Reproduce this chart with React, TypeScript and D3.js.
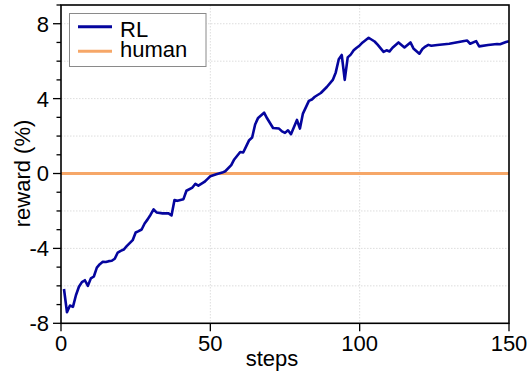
import React from "react";
import * as d3 from "d3";

const rlSteps = [1, 2, 3, 4, 5, 6, 7, 8, 9, 10, 11, 12, 13, 14, 15, 16, 17, 18, 19, 20, 21, 22, 24, 25, 26, 27, 28, 29, 30, 31, 32, 34, 36, 37, 38, 39, 41, 42, 44, 45, 46, 48, 49, 50, 52, 54, 55, 57, 58, 60, 61, 62, 63, 64, 65, 66, 68, 69, 71, 73, 74, 75, 76, 77, 79, 80, 81, 83, 84, 85, 87, 89, 91, 92, 93, 94, 95, 96, 97, 98, 99, 100, 101, 103, 105, 106, 108, 109, 110, 111, 113, 115, 117, 118, 120, 121, 122, 123, 124, 126, 130, 135, 136, 137, 139, 140, 143, 146, 147, 149, 150];
const rlValues = [-6.17, -7.41, -7.05, -7.12, -6.5, -6.05, -5.8, -5.7, -6.0, -5.6, -5.5, -5.03, -4.84, -4.71, -4.73, -4.68, -4.66, -4.55, -4.22, -4.13, -4.06, -3.88, -3.56, -3.15, -3.08, -2.99, -2.67, -2.45, -2.2, -1.92, -2.08, -2.13, -2.13, -2.24, -1.42, -1.46, -1.37, -0.92, -0.75, -0.55, -0.65, -0.45, -0.3, -0.15, -0.04, 0.05, 0.12, 0.45, 0.75, 1.15, 1.12, 1.45, 1.78, 1.92, 2.62, 2.97, 3.25, 2.95, 2.43, 2.4, 2.25, 2.17, 2.31, 2.1, 2.86, 2.4, 3.2, 3.88, 3.95, 4.1, 4.3, 4.62, 5.0, 5.4, 6.1, 6.33, 5.0, 6.2, 6.35, 6.58, 6.72, 6.84, 7.0, 7.25, 7.05, 6.88, 6.5, 6.58, 6.52, 6.72, 7.0, 6.73, 7.0, 6.68, 6.4, 6.65, 6.78, 6.87, 6.82, 6.86, 6.93, 7.08, 7.1, 6.93, 7.07, 6.79, 6.86, 6.92, 6.9, 7.02, 7.07];
const humanSteps = [0, 150];
const humanValues = [0, 0];

const xTicks = [0, 50, 100, 150];
const yTicks = [-8, -4, 0, 4, 8];
const yMinorTicks = d3.range(-8, 10, 1);
const yGrid = [-6, -4, -2, 2, 4, 6, 8];
const xGrid = [50, 100];
const seriesNames = ["RL", "human"];
const seriesColors = ["#05059e", "#f6a768"];

const W = 527;
const H = 375;
const left = 61;
const right = 509;
const top = 5;
const bottom = 323.3;
const FONT = "'Liberation Sans', Arial, sans-serif";

export default function App() {
  const x = d3.scaleLinear().domain([0, 150]).range([left, right]);
  const y = d3.scaleLinear().domain([-8, 9]).range([bottom, top]);
  const line = d3
    .line<[number, number]>()
    .x((d) => x(d[0]))
    .y((d) => y(d[1]));
  const rlData: [number, number][] = rlSteps.map((s, i) => [s, rlValues[i]]);
  const humanData: [number, number][] = humanSteps.map((s, i) => [s, humanValues[i]]);

  return (
    <svg
      width={W}
      height={H}
      style={{ position: "absolute", left: 0, top: 0, background: "#fff" }}
      fontFamily={FONT}
    >
      <rect x={0} y={0} width={W} height={H} fill="#fff" />
      {/* grid */}
      {yGrid.map((v) => (
        <line
          key={"yg" + v}
          x1={left}
          x2={right}
          y1={y(v)}
          y2={y(v)}
          stroke="#d4d4d4"
          strokeWidth={0.8}
          strokeDasharray="1.5,1.5"
        />
      ))}
      {xGrid.map((v) => (
        <line
          key={"xg" + v}
          x1={x(v)}
          x2={x(v)}
          y1={top}
          y2={bottom}
          stroke="#d4d4d4"
          strokeWidth={0.8}
          strokeDasharray="1.5,1.5"
        />
      ))}
      {/* series */}
      <path d={line(humanData) || ""} fill="none" stroke={seriesColors[1]} strokeWidth={3} />
      <path
        d={line(rlData) || ""}
        fill="none"
        stroke={seriesColors[0]}
        strokeWidth={2.6}
        strokeLinejoin="round"
      />
      {/* frame */}
      <rect
        x={left}
        y={top}
        width={right - left}
        height={bottom - top}
        fill="none"
        stroke="#000"
        strokeWidth={1.6}
      />
      {/* y ticks */}
      {yMinorTicks.map((v) => (
        <line
          key={"ym" + v}
          x1={left - (v % 4 === 0 ? 8 : 4.5)}
          x2={left}
          y1={y(v)}
          y2={y(v)}
          stroke="#000"
          strokeWidth={1.3}
        />
      ))}
      {yTicks.map((v) => (
        <text
          key={"yt" + v}
          x={49}
          y={y(v) + 7.9}
          textAnchor="end"
          fontSize={22}
          fill="#000"
        >
          {v}
        </text>
      ))}
      {/* x ticks */}
      {xTicks.map((v) => (
        <g key={"xt" + v}>
          <line x1={x(v)} x2={x(v)} y1={bottom} y2={bottom + 8} stroke="#000" strokeWidth={1.3} />
          <text x={x(v)} y={351} textAnchor="middle" fontSize={22} fill="#000">
            {v}
          </text>
        </g>
      ))}
      {/* axis labels */}
      <text x={272} y={365.5} textAnchor="middle" fontSize={22} fill="#000">
        steps
      </text>
      <text
        transform={`translate(30, ${y(0)}) rotate(-90)`}
        textAnchor="middle"
        fontSize={22}
        fill="#000"
      >
        reward (%)
      </text>
      {/* legend */}
      <rect x={69.5} y={13.5} width={136.5} height={53} fill="#fff" stroke="#8a8a8a" strokeWidth={1} />
      {seriesNames.map((n, i) => (
        <g key={n}>
          <line
            x1={78}
            x2={112}
            y1={26.7 + i * 24.5}
            y2={26.7 + i * 24.5}
            stroke={seriesColors[i]}
            strokeWidth={3}
          />
          <text x={120} y={36.7 + i * 20} fontSize={22} fill="#000">
            {n}
          </text>
        </g>
      ))}
    </svg>
  );
}
